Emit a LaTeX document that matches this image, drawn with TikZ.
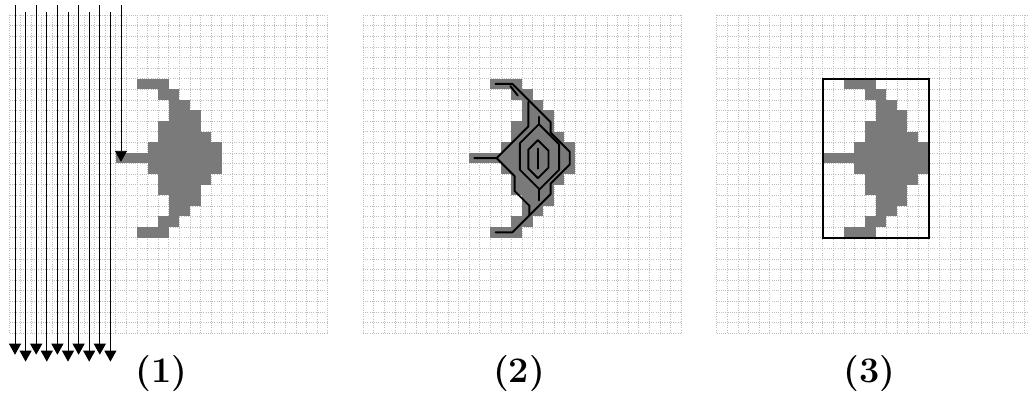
\documentclass[tikz,border=0pt]{standalone}
\usepackage{fontspec}
\usetikzlibrary{arrows.meta}
\definecolor{shapegray}{RGB}{122,122,122}
\definecolor{gridgray}{RGB}{190,190,190}
\tikzset{
  majorgrid/.style={gridgray, line width=0.6pt, dash pattern=on 0.9pt off 1.3pt},
  scanline/.style={black, line width=0.9pt, -{Triangle[width=12pt,length=11pt]}},
  trace/.style={black, line width=1.9pt, line join=round, line cap=round},
  bbox/.style={black, line width=1.8pt},
  lbl/.style={font=\fontsize{36}{42}\selectfont\bfseries, anchor=center, inner sep=0pt}
}
\newcommand{\gridandshape}{%
  \foreach \k in {0,...,30}{
    \draw[majorgrid] (\k,0) -- (\k,30);
    \draw[majorgrid] (0,\k) -- (30,\k);
  }
  \foreach \r/\a/\b in {6/12/14,7/14/15,8/15/16,9/15/17,10/14/17,11/14/18,12/13/19,13/10/19,14/13/19,15/14/18,16/14/17,17/15/17,18/15/16,19/14/15,20/12/14}
    \fill[shapegray] (\a,\r) rectangle (\b+1,\r+1);
}
\begin{document}
\begin{tikzpicture}[x=1pt,y=-1pt]
\useasboundingbox (0,0) rectangle (1028,394);
\clip (0,0) rectangle (1028,394);
% panel 1
\begin{scope}[shift={(9.7,15)},x=10.6pt,y=-10.6pt]
  \gridandshape
  \foreach \i in {0,...,10}{
    \pgfmathsetmacro{\ys}{mod(\i,2)==0 ? -0.9 : -0.33}
    \pgfmathsetmacro{\ye}{mod(\i,2)==0 ? 32.05 : 32.7}
    \coordinate (s\i) at (\i+0.5,\ys);
    \ifnum\i<10
      \coordinate (e\i) at (\i+0.5,\ye);
    \else
      \coordinate (e\i) at (\i+0.5,13.85);
    \fi
    \draw[scanline] (s\i) -- (e\i);
  }
\end{scope}
\node[lbl] (l1) at (161.7,374) {(1)};
% panel 2
\begin{scope}[shift={(363,15)},x=10.6pt,y=-10.6pt]
  \gridandshape
  % outer trace along the right boundary
  \draw[trace] (12.5,6.5) -- (14.1,6.5) -- (15.7,8.1) -- (17.7,10.1) -- (17.7,11.1) -- (19.5,12.9) -- (19.5,14.1) -- (17.7,15.9) -- (17.7,16.9) -- (15.7,18.9) -- (14.1,20.5) -- (12.5,20.5);
  \draw[trace] (13.9,6.7) -- (14.6,7.6);
  % arm and the branches along the left side
  \draw[trace] (10.5,13.5) -- (12.6,13.5) -- (15.6,10.5) -- (15.6,8.2);
  \draw[trace] (12.6,13.5) -- (14.3,15.2) -- (14.3,16.6) -- (15.7,18.0) -- (15.7,18.9);
  % second ring
  \draw[trace] (16.6,9.6) -- (16.6,10.3) -- (18.5,12.2) -- (18.5,14.6) -- (16.6,16.5) -- (16.6,17.5);
  \draw[trace] (16.6,10.3) -- (14.8,12.1) -- (14.8,14.6) -- (16.6,16.4);
  % inner ring and centre
  \draw[trace] (16.5,11.8) -- (17.5,12.8) -- (17.5,14.4) -- (16.5,15.4) -- (15.6,14.5) -- (15.6,12.7) -- cycle;
  \draw[trace] (16.5,12.6) -- (16.5,14.5);
\end{scope}
\node[lbl] (l2) at (519,374) {(2)};
% panel 3
\begin{scope}[shift={(716.6,15)},x=10.6pt,y=-10.6pt]
  \gridandshape
  \draw[bbox] (10,6) rectangle (20,21);
\end{scope}
\node[lbl] (l3) at (869.5,374) {(3)};
\end{tikzpicture}
\end{document}
